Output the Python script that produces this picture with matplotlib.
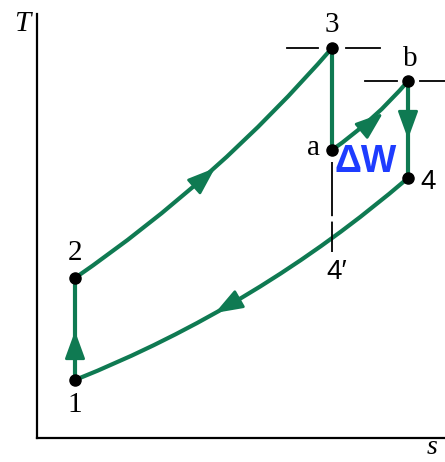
import matplotlib.pyplot as plt
from matplotlib.patches import FancyArrowPatch

# State points of the reheat cycle on the T-s plane (arbitrary units)
states = ["1", "2", "3", "a", "b", "4"]
s_pts = [38, 38, 295, 295, 371, 371]
T_pts = [58, 160, 390, 288, 357, 260]

# End of isentropic expansion without reheat
s_4p, T_4p = 295, 200

# Processes (start, end, curvature of the constant-pressure lines)
proc_from = ["1", "2", "3", "a", "b", "4"]
proc_to = ["2", "3", "a", "b", "4", "1"]
proc_rad = [0.0, 0.064, 0.0, 0.065, 0.0, -0.083]

# Direction arrows along the processes (tail -> tip)
arrow_tail_s = [38, 160, 328, 371, 199]
arrow_tail_T = [86, 254, 310, 325, 137]
arrow_tip_s = [38, 178, 346, 371, 178]
arrow_tip_T = [107, 270, 325, 299, 125]

# Short isobar marks either side of states 3 and b
isobar_T = [390, 390, 357, 357]
isobar_s0 = [250, 309, 328, 383]
isobar_s1 = [281, 343, 360, 408]

green = "#0f7a52"
blue = "#1e3cff"
pt = dict(zip(states, zip(s_pts, T_pts)))

fig = plt.figure(figsize=(4.45, 4.62), dpi=100)
ax = fig.add_axes([37 / 445, 24 / 462, 408 / 445, 424 / 462])
ax.set_xlim(0, 408)
ax.set_ylim(0, 424)
for side in ["top", "right"]:
    ax.spines[side].set_visible(False)
for side in ["left", "bottom"]:
    ax.spines[side].set_linewidth(1.6)
ax.set_xticks([])
ax.set_yticks([])

# cycle lines
for a, b, rad in zip(proc_from, proc_to, proc_rad):
    p = FancyArrowPatch(pt[a], pt[b], arrowstyle="-",
                        connectionstyle=f"arc3,rad={rad}",
                        color=green, lw=3, shrinkA=0, shrinkB=0, zorder=2)
    ax.add_patch(p)

# arrowheads
for ts, tT, hs, hT in zip(arrow_tail_s, arrow_tail_T, arrow_tip_s, arrow_tip_T):
    ax.annotate("", xy=(hs, hT), xytext=(ts, tT),
                arrowprops=dict(arrowstyle="-|>,head_length=0.55,head_width=0.2",
                                mutation_scale=31, color=green, lw=2,
                                shrinkA=0, shrinkB=0), zorder=3)

# isobar marks and the dashed isentrope down to 4'
for T, s0, s1 in zip(isobar_T, isobar_s0, isobar_s1):
    ax.plot([s0, s1], [T, T], color="black", lw=1.3, clip_on=False)
ax.plot([s_4p, s_4p], [T_pts[3] - 12, T_4p - 14], color="black", lw=1.3,
        linestyle=(0, (30, 3)))

# state points
ax.plot(s_pts, T_pts, "o", color="black", markersize=8, zorder=4)

serif = dict(family="Liberation Serif", fontsize=21, ha="center", va="center")
sans = dict(family=["Liberation Sans", "DejaVu Sans"], fontsize=20,
            ha="center", va="center")
ax.text(38, 33, "1", **serif)
ax.text(38, 185, "2", **serif)
ax.text(295, 413, "3", **serif)
ax.text(277, 290, "a", **serif)
ax.text(373, 379, "b", **serif)
ax.text(391, 256, "4", **sans)
ax.text(300, 166, "4\u2032", **sans)
ax.text(329, 276, "ΔW", family="Liberation Sans", fontsize=27,
        fontweight="bold", color=blue, ha="center", va="center")

# axis labels
ax.text(-15, 414, "T", family="Liberation Serif", style="italic",
        fontsize=21, ha="center", va="center", clip_on=False)
ax.text(395, -10, "s", family="Liberation Serif", style="italic",
        fontsize=20, ha="center", va="center", clip_on=False)

fig.savefig("out.png", dpi=100)
